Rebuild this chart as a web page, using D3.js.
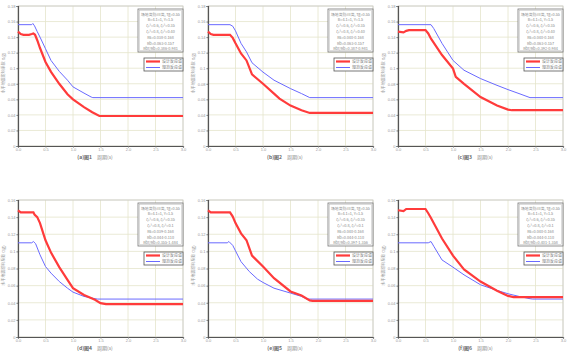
<!DOCTYPE html>
<html><head><meta charset="utf-8">
<script src="https://cdn.jsdelivr.net/npm/d3@7"></script>
<style>body{margin:0;background:#fff}svg{display:block;font-family:"Noto Sans CJK SC","DejaVu Sans",sans-serif}</style>
</head><body><svg id="c" width="571" height="360"></svg>
<script>
// Data (period T in s, coefficient α)
const xTicks = [0, 0.5, 1.0, 1.5, 2.0, 2.5, 3.0];
const yTicksTop = [0, 0.02, 0.04, 0.06, 0.08, 0.1, 0.12, 0.14, 0.16, 0.18];
const yTicksBottom = [0, 0.02, 0.04, 0.06, 0.08, 0.1, 0.12, 0.14, 0.16];
const seriesNames = ["设计反应谱", "规范反应谱"];
const figLabels = ["(a)图1", "(b)图2", "(c)图3", "(d)图4", "(e)图5", "(f)图6"];

const fig1Red = [[0,0.147],[0.05,0.144],[0.1,0.143],[0.2,0.143],[0.25,0.144],[0.28,0.1447],[0.31,0.143],[0.35,0.136],[0.4,0.126],[0.5,0.108],[0.6,0.0953],[0.75,0.080],[0.9,0.0665],[1.0,0.060],[1.2,0.050],[1.35,0.0434],[1.48,0.0386],[3.0,0.0386]];
const fig1Blue = [[0,0.156],[0.25,0.156],[0.27,0.1575],[0.3,0.1545],[0.35,0.147],[0.4,0.140],[0.5,0.125],[0.6,0.110],[0.75,0.096],[0.9,0.0846],[1.0,0.076],[1.2,0.068],[1.33,0.063],[1.36,0.0622],[3.0,0.0622]];
const fig2Red = [[0,0.147],[0.05,0.144],[0.1,0.143],[0.4,0.143],[0.45,0.139],[0.5,0.132],[0.6,0.119],[0.7,0.110],[0.8,0.092],[1.0,0.080],[1.2,0.0674],[1.3,0.061],[1.5,0.052],[1.7,0.046],[1.85,0.0425],[3.0,0.0425]];
const fig2Blue = [[0,0.156],[0.4,0.156],[0.45,0.154],[0.5,0.148],[0.6,0.132],[0.7,0.121],[0.8,0.107],[1.0,0.095],[1.2,0.0846],[1.5,0.0738],[1.7,0.0674],[1.85,0.0622],[3.0,0.0622]];
const fig3Red = [[0,0.147],[0.1,0.146],[0.15,0.148],[0.2,0.149],[0.5,0.149],[0.55,0.1447],[0.6,0.138],[0.8,0.117],[1.0,0.0996],[1.05,0.089],[1.2,0.080],[1.5,0.063],[1.8,0.052],[2.0,0.0468],[2.07,0.046],[3.0,0.046]];
const fig3Blue = [[0,0.156],[0.6,0.156],[0.65,0.151],[0.8,0.132],[0.9,0.121],[1.0,0.110],[1.2,0.0974],[1.5,0.0867],[1.8,0.078],[2.0,0.0725],[2.2,0.0674],[2.4,0.0622],[3.0,0.0622]];
const fig4Red = [[0,0.148],[0.05,0.1456],[0.28,0.1456],[0.3,0.143],[0.35,0.140],[0.4,0.133],[0.5,0.113],[0.6,0.0986],[0.75,0.0816],[0.9,0.0668],[1.0,0.057],[1.2,0.049],[1.4,0.0435],[1.5,0.0396],[1.6,0.0384],[3.0,0.0384]];
const fig4Blue = [[0,0.110],[0.25,0.110],[0.28,0.1115],[0.32,0.109],[0.4,0.096],[0.5,0.0823],[0.6,0.0746],[0.75,0.0648],[0.9,0.057],[1.0,0.0524],[1.2,0.0474],[1.4,0.0447],[1.45,0.0443],[3.0,0.0443]];
const fig5Red = [[0,0.148],[0.05,0.1456],[0.4,0.1456],[0.45,0.1406],[0.5,0.133],[0.6,0.121],[0.7,0.113],[0.8,0.095],[1.0,0.0823],[1.2,0.0687],[1.5,0.0532],[1.7,0.0485],[1.85,0.0427],[1.9,0.0423],[3.0,0.0423]];
const fig5Blue = [[0,0.110],[0.35,0.110],[0.38,0.1115],[0.45,0.107],[0.5,0.1006],[0.6,0.088],[0.75,0.0765],[0.9,0.0676],[1.0,0.0637],[1.2,0.057],[1.5,0.0513],[1.7,0.0474],[1.8,0.0443],[3.0,0.0443]];
const fig6Red = [[0,0.148],[0.1,0.147],[0.15,0.1495],[0.5,0.1495],[0.55,0.1445],[0.6,0.139],[0.8,0.115],[1.0,0.095],[1.2,0.079],[1.5,0.0648],[1.8,0.054],[2.0,0.048],[2.1,0.0466],[3.0,0.0466]];
const fig6Blue = [[0,0.110],[0.55,0.110],[0.6,0.1115],[0.65,0.106],[0.8,0.090],[1.0,0.0815],[1.2,0.0726],[1.5,0.061],[1.8,0.0544],[2.0,0.0505],[2.2,0.0474],[2.4,0.0447],[2.45,0.0443],[3.0,0.0443]];

const infoTop = [
  ["场地类别:III类, Tg=0.55","B=4.1=1, γ=1.5","ζ₁²=0.6, ζ₂²=0.35","ζ₁²=0.8, ζ₂²=0.40","Rs=0.038-0.168","Rb=0.063-0.157","Rbr/Rb=0.386-0.981"],
  ["场地类别:III类, Tg=0.55","B=4.1=1, γ=1.5","ζ₁²=0.6, ζ₂²=0.35","ζ₁²=0.8, ζ₂²=0.40","Rs=0.040-0.168","Rb=0.063-0.157","Rbr/Rb=0.387-0.981"],
  ["场地类别:III类, Tg=0.55","B=4.1=1, γ=1.5","ζ₁²=0.6, ζ₂²=0.35","ζ₁²=0.8, ζ₂²=0.40","Rs=0.040-0.168","Rb=0.063-0.157","Rbr/Rb=0.392-0.984"]
];
const infoBottom = [
  ["场地类别:III类, Tg=0.55","B=4.1=1, γ=1.5","ζ₁²=0.6, ζ₂²=0.35","ζ₁²=0.8, ζ₂²=0.1","Rs=0.039-0.168","Rb=0.044-0.110","Rbr/Rb=0.355-1.484"],
  ["场地类别:III类, Tg=0.55","B=4.1=1, γ=1.5","ζ₁²=0.6, ζ₂²=0.35","ζ₁²=0.8, ζ₂²=0.1","Rs=0.040-0.168","Rb=0.044-0.110","Rbr/Rb=0.397-1.356"],
  ["场地类别:III类, Tg=0.55","B=4.1=1, γ=1.5","ζ₁²=0.6, ζ₂²=0.35","ζ₁²=0.8, ζ₂²=0.1","Rs=0.040-0.168","Rb=0.044-0.110","Rbr/Rb=0.401-1.358"]
];

const panels = [
  {red:fig1Red, blue:fig1Blue, info:infoTop[0]},
  {red:fig2Red, blue:fig2Blue, info:infoTop[1]},
  {red:fig3Red, blue:fig3Blue, info:infoTop[2]},
  {red:fig4Red, blue:fig4Blue, info:infoBottom[0]},
  {red:fig5Red, blue:fig5Blue, info:infoBottom[1]},
  {red:fig6Red, blue:fig6Blue, info:infoBottom[2]}
];

const svg = d3.select("#c");
const colX = [0, 190, 380];
const rowGeom = [
  {top:6, bottom:146, ticks:yTicksTop, max:0.18},
  {top:200, bottom:337, ticks:yTicksBottom, max:0.16}
];
const RED = "#ff3b3b", BLUE = "#6a6aff";
const fmtY = d => String(+d.toFixed(2));

panels.forEach((p, i) => {
  const r = Math.floor(i / 3), c = i % 3;
  const g0 = rowGeom[r];
  const left = colX[c] + 18, right = colX[c] + 183;
  const x = d3.scaleLinear().domain([0, 3]).range([left, right]);
  const y = d3.scaleLinear().domain([0, g0.max]).range([g0.bottom, g0.top]);
  const g = svg.append("g");

  // grid
  g.selectAll(".vg").data(xTicks).join("line")
    .attr("x1", d => x(d)).attr("x2", d => x(d)).attr("y1", g0.top).attr("y2", g0.bottom)
    .attr("stroke", "#e4e4cc").attr("stroke-width", 0.8);
  g.selectAll(".hg").data(g0.ticks).join("line")
    .attr("x1", left).attr("x2", right).attr("y1", d => y(d)).attr("y2", d => y(d))
    .attr("stroke", "#e4e4cc").attr("stroke-width", 0.8);
  g.append("rect").attr("x", left).attr("y", g0.top).attr("width", right - left).attr("height", g0.bottom - g0.top)
    .attr("fill", "none").attr("stroke", "#c8c8c8").attr("stroke-width", 0.8);

  // axes
  const xa = d3.axisBottom(x).tickValues(xTicks).tickFormat(d3.format(".1f")).tickSize(1.5).tickPadding(1);
  const ya = d3.axisLeft(y).tickValues(g0.ticks).tickFormat(fmtY).tickSize(1.5).tickPadding(1);
  const gx = g.append("g").attr("transform", `translate(0,${g0.bottom})`).call(xa);
  const gy = g.append("g").attr("transform", `translate(${left},0)`).call(ya);
  [gx, gy].forEach(a => {
    a.select(".domain").attr("stroke", "#555").attr("stroke-width", 1.2);
    a.selectAll(".tick line").attr("stroke", "#777");
    a.selectAll("text").attr("fill", "#999").attr("font-size", 4).attr("font-family", "Liberation Sans");
  });

  // axis titles
  const ty = g0.bottom + 13;
  g.append("text").attr("x", colX[c] + 92).attr("y", ty)
    .attr("text-anchor", "end").attr("font-size", 5).attr("font-weight", "bold").attr("fill", "#666")
    .text(figLabels[i]);
  g.append("text").attr("x", colX[c] + 97).attr("y", ty)
    .attr("text-anchor", "start").attr("font-size", 5).attr("fill", "#888")
    .text("周期(s)");
  const ymid = (g0.top + g0.bottom) / 2 - 3;
  g.append("text").attr("transform", `translate(${colX[c] + 4.5},${ymid}) rotate(-90)`)
    .attr("text-anchor", "middle").attr("font-size", 4).attr("fill", "#999")
    .text("水平地震影响系数 α(g)");

  // lines
  const line = d3.line().x(d => x(d[0])).y(d => y(d[1]));
  g.append("path").datum(p.blue).attr("d", line).attr("fill", "none").attr("stroke", BLUE).attr("stroke-width", 1);
  g.append("path").datum(p.red).attr("d", line).attr("fill", "none").attr("stroke", RED).attr("stroke-width", 2.2);

  // info box
  const bx = colX[c] + 138, by = g0.top + 3, bw = 45, bh = 43;
  g.append("rect").attr("x", bx).attr("y", by).attr("width", bw).attr("height", bh)
    .attr("fill", "#fff").attr("stroke", "#777").attr("stroke-width", 0.8);
  g.append("rect").attr("x", bx + 1.5).attr("y", by + 1.5).attr("width", bw - 3).attr("height", bh - 3)
    .attr("fill", "none").attr("stroke", "#bbb").attr("stroke-width", 0.5);
  g.selectAll(".info").data(p.info).join("text")
    .attr("x", bx + bw / 2).attr("y", (d, k) => by + 6.5 + k * 5.8)
    .attr("text-anchor", "middle").attr("font-size", 3.8).attr("fill", "#888").text(d => d);

  // legend
  const lx = colX[c] + 144, ly = g0.top + 52, lw = 39, lh = 13;
  g.append("rect").attr("x", lx).attr("y", ly).attr("width", lw).attr("height", lh)
    .attr("fill", "#fff").attr("stroke", "#555").attr("stroke-width", 0.8);
  [[RED, 2.2], [BLUE, 1]].forEach((s, k) => {
    const yy = ly + 3.5 + k * 6;
    g.append("line").attr("x1", lx + 2).attr("x2", lx + 16).attr("y1", yy).attr("y2", yy)
      .attr("stroke", s[0]).attr("stroke-width", s[1]);
    g.append("text").attr("x", lx + 18).attr("y", yy + 1.5).attr("font-size", 4).attr("fill", "#777")
      .text(seriesNames[k]);
  });
});
</script></body></html>
